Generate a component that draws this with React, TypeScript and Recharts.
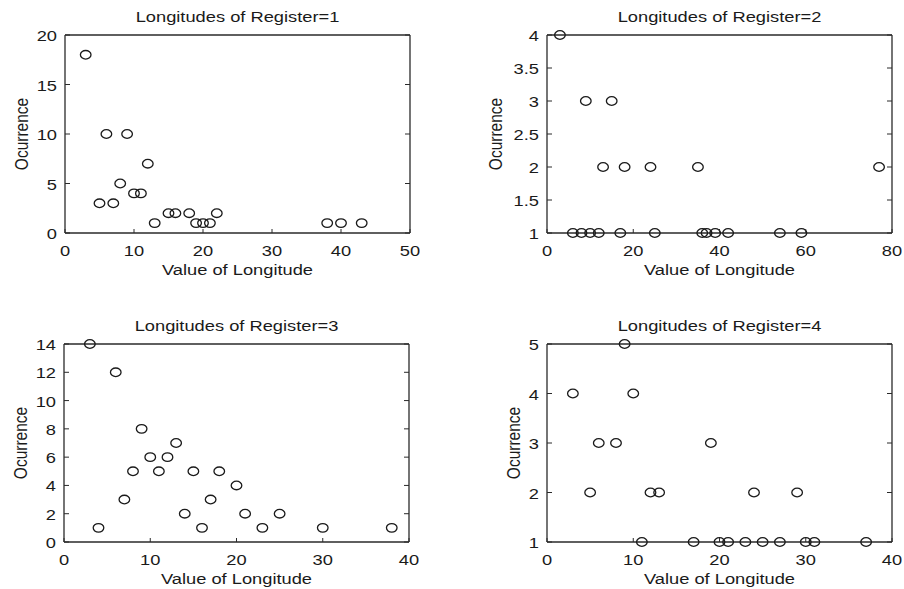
import React from 'react';
import { ScatterChart, Scatter, XAxis, YAxis, Label } from 'recharts';

// ---- Data ----
const reg1X = [3, 5, 6, 7, 8, 9, 10, 11, 12, 13, 15, 16, 18, 19, 20, 21, 22, 38, 40, 43];
const reg1Y = [18, 3, 10, 3, 5, 10, 4, 4, 7, 1, 2, 2, 2, 1, 1, 1, 2, 1, 1, 1];

const reg2X = [3, 6, 8, 9, 10, 12, 13, 15, 17, 18, 24, 25, 35, 36, 37, 39, 42, 54, 59, 77];
const reg2Y = [4, 1, 1, 3, 1, 1, 2, 3, 1, 2, 2, 1, 2, 1, 1, 1, 1, 1, 1, 2];

const reg3X = [3, 4, 6, 7, 8, 9, 10, 11, 12, 13, 14, 15, 16, 17, 18, 20, 21, 23, 25, 30, 38];
const reg3Y = [14, 1, 12, 3, 5, 8, 6, 5, 6, 7, 2, 5, 1, 3, 5, 4, 2, 1, 2, 1, 1];

const reg4X = [3, 5, 6, 8, 9, 10, 11, 12, 13, 17, 19, 20, 21, 23, 24, 25, 27, 29, 30, 31, 37];
const reg4Y = [4, 2, 3, 3, 5, 4, 1, 2, 2, 1, 3, 1, 1, 1, 2, 1, 1, 2, 1, 1, 1];

const xTicks1 = [0, 10, 20, 30, 40, 50];
const yTicks1 = [0, 5, 10, 15, 20];
const xTicks2 = [0, 20, 40, 60, 80];
const yTicks2 = [1, 1.5, 2, 2.5, 3, 3.5, 4];
const xTicks3 = [0, 10, 20, 30, 40];
const yTicks3 = [0, 2, 4, 6, 8, 10, 12, 14];
const xTicks4 = [0, 10, 20, 30, 40];
const yTicks4 = [1, 2, 3, 4, 5];

const titles = [
  'Longitudes of Register=1',
  'Longitudes of Register=2',
  'Longitudes of Register=3',
  'Longitudes of Register=4',
];
const xLabel = 'Value of Longitude';
const yLabel = 'Ocurrence';

// ---- Styling ----
const FONT = '"Liberation Sans", Arial, Helvetica, sans-serif';
const FS = 15.5;
const SX = 1.18; // horizontal stretch of the reference image
const INK = '#1a1a1a';
const FRAME = '#2a2a2a';

const PL = 65; // plot left within chart
const PT = 35; // plot top within chart
const PW = 345;
const PH = 198;
const CW = 420;
const CH = 294;

const txt = (x: number, y: number, s: string, anchor: string, rotate = false) => (
  <text
    transform={`translate(${x},${y}) scale(${SX},1)${rotate ? ' rotate(-90)' : ''}`}
    textAnchor={anchor}
    fontFamily={FONT}
    fontSize={FS}
    fill={INK}
  >
    {s}
  </text>
);

const BottomTick = (p: any) => (
  <g>
    <line x1={p.x} y1={p.y} x2={p.x} y2={p.y - 4} stroke={FRAME} strokeWidth={1} />
    {txt(p.x, p.y + 23, String(p.payload.value), 'middle')}
  </g>
);
const TopTick = (p: any) => (
  <line x1={p.x} y1={p.y} x2={p.x} y2={p.y + 4} stroke={FRAME} strokeWidth={1} />
);
const LeftTick = (p: any) => (
  <g>
    <line x1={p.x} y1={p.y} x2={p.x + 5} y2={p.y} stroke={FRAME} strokeWidth={1} />
    {txt(p.x - 8, p.y + 6, String(p.payload.value), 'end')}
  </g>
);
const RightTick = (p: any) => (
  <line x1={p.x} y1={p.y} x2={p.x - 5} y2={p.y} stroke={FRAME} strokeWidth={1} />
);

const Circle = (p: any) => (
  <ellipse cx={p.cx} cy={p.cy} rx={5.3} ry={4.3} fill="none" stroke={INK} strokeWidth={1.3} />
);

type PanelProps = {
  plotLeft: number;
  plotTop: number;
  title: string;
  xs: number[];
  ys: number[];
  xTicks: number[];
  yTicks: number[];
  yLabelX: number;
};

function Panel({ plotLeft, plotTop, title, xs, ys, xTicks, yTicks, yLabelX }: PanelProps) {
  const data = xs.map((x, i) => ({ x, y: ys[i] }));
  const xDomain = [xTicks[0], xTicks[xTicks.length - 1]];
  const yDomain = [yTicks[0], yTicks[yTicks.length - 1]];
  const axisLine = { stroke: FRAME, strokeWidth: 1.3 };
  return (
    <div style={{ position: 'absolute', left: plotLeft - PL, top: plotTop - PT }}>
      <ScatterChart
        width={CW}
        height={CH}
        margin={{ top: PT - 1, right: CW - PL - PW - 1, bottom: CH - PT - PH - 1, left: 0 }}
      >
        <XAxis
          xAxisId="b"
          type="number"
          dataKey="x"
          orientation="bottom"
          domain={xDomain}
          ticks={xTicks}
          interval={0}
          height={1}
          tickSize={0}
          tickMargin={0}
          tickLine={false}
          axisLine={axisLine}
          tick={BottomTick}
        >
          <Label content={() => txt(PL + PW / 2, PT + PH + 42, xLabel, 'middle')} />
        </XAxis>
        <XAxis
          xAxisId="t"
          type="number"
          orientation="top"
          domain={xDomain}
          ticks={xTicks}
          interval={0}
          allowDataOverflow
          height={1}
          tickSize={0}
          tickMargin={0}
          tickLine={false}
          axisLine={axisLine}
          tick={TopTick}
        >
          <Label content={() => txt(PL + PW / 2, PT - 13, title, 'middle')} />
        </XAxis>
        <YAxis
          yAxisId="l"
          type="number"
          dataKey="y"
          orientation="left"
          domain={yDomain}
          ticks={yTicks}
          interval={0}
          width={PL}
          tickSize={0}
          tickMargin={0}
          tickLine={false}
          axisLine={axisLine}
          tick={LeftTick}
        >
          <Label content={() => txt(yLabelX, PT + PH / 2, yLabel, 'middle', true)} />
        </YAxis>
        <YAxis
          yAxisId="r"
          type="number"
          orientation="right"
          domain={yDomain}
          ticks={yTicks}
          interval={0}
          allowDataOverflow
          width={1}
          tickSize={0}
          tickMargin={0}
          tickLine={false}
          axisLine={axisLine}
          tick={RightTick}
        />
        <Scatter
          data={data}
          xAxisId="b"
          yAxisId="l"
          isAnimationActive={false}
          shape={Circle}
        />
      </ScatterChart>
    </div>
  );
}

export default function App() {
  return (
    <div
      style={{
        position: 'absolute',
        left: 0,
        top: 0,
        width: 904,
        height: 589,
        overflow: 'hidden',
        background: '#fff',
      }}
    >
      <Panel plotLeft={65} plotTop={35} title={titles[0]} xs={reg1X} ys={reg1Y} xTicks={xTicks1} yTicks={yTicks1} yLabelX={28} />
      <Panel plotLeft={547} plotTop={35} title={titles[1]} xs={reg2X} ys={reg2Y} xTicks={xTicks2} yTicks={yTicks2} yLabelX={20} />
      <Panel plotLeft={64} plotTop={344} title={titles[2]} xs={reg3X} ys={reg3Y} xTicks={xTicks3} yTicks={yTicks3} yLabelX={28} />
      <Panel plotLeft={547} plotTop={344} title={titles[3]} xs={reg4X} ys={reg4Y} xTicks={xTicks4} yTicks={yTicks4} yLabelX={38} />
    </div>
  );
}
